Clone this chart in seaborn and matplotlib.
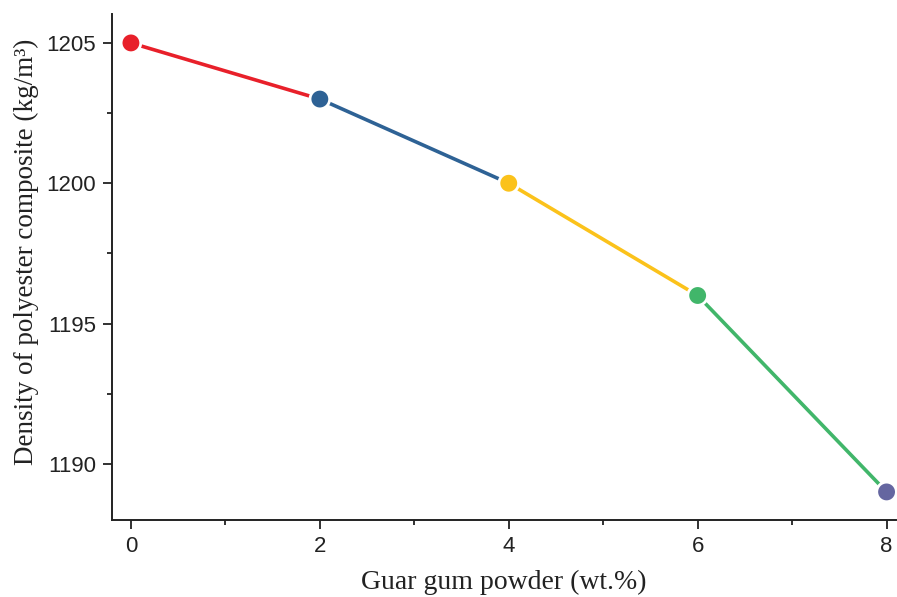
import matplotlib
matplotlib.use("Agg")
import matplotlib.pyplot as plt
import numpy as np
import pandas as pd
import seaborn as sns
from matplotlib.ticker import MultipleLocator

# Data
guar_wt = [0, 2, 4, 6, 8]
density = [1205, 1203, 1200, 1196, 1189]
point_colors = ["#E8202A", "#2E6295", "#FBC21B", "#41B66A", "#6566A0"]

sns.set_style("ticks")

fig = plt.figure(figsize=(8.97, 5.97), dpi=100)
ax = fig.add_axes([0.1249, 0.129, 0.874, 0.8475])

# Each segment takes the colour of the point it starts from
seg_rows = []
for i in range(len(guar_wt) - 1):
    for j in (i, i + 1):
        seg_rows.append({"x": guar_wt[j], "y": density[j], "seg": str(i)})
seg_df = pd.DataFrame(seg_rows)
sns.lineplot(data=seg_df, x="x", y="y", hue="seg", palette=point_colors[:4],
             linewidth=2.6, legend=False, ax=ax, sort=False)

pts = pd.DataFrame({"x": guar_wt, "y": density, "c": [str(i) for i in range(5)]})
sns.scatterplot(data=pts, x="x", y="y", hue="c", palette=point_colors, s=200,
                edgecolor="white", linewidth=2.0, legend=False, ax=ax, zorder=5)

ax.set_xlim(-0.2, 8.1)
ax.set_ylim(1188, 1206.03)
ax.xaxis.set_major_locator(MultipleLocator(2))
ax.xaxis.set_minor_locator(MultipleLocator(1))
ax.yaxis.set_major_locator(MultipleLocator(5))
ax.yaxis.set_minor_locator(MultipleLocator(2.5))

for lab in ax.get_xticklabels() + ax.get_yticklabels():
    lab.set_fontfamily("Liberation Sans")
    lab.set_fontsize(16)
    lab.set_color("#222222")

ax.tick_params(which="major", direction="out", length=6.5, width=1.3, color="#222222", pad=5)
ax.tick_params(which="minor", direction="out", length=3.5, width=1.3, color="#222222")
for side in ("left", "bottom"):
    ax.spines[side].set_linewidth(1.4)
    ax.spines[side].set_color("#222222")
sns.despine(ax=ax)

ax.set_xlabel("Guar gum powder (wt.%)", fontfamily="Liberation Serif", fontsize=20,
              color="#222222", labelpad=9)
ax.set_ylabel("Density of polyester composite (kg/m³)", fontfamily="Liberation Serif",
              fontsize=19.5, color="#222222")
ax.yaxis.set_label_coords(-0.093, 0.53)

fig.savefig("out.png", dpi=100)
